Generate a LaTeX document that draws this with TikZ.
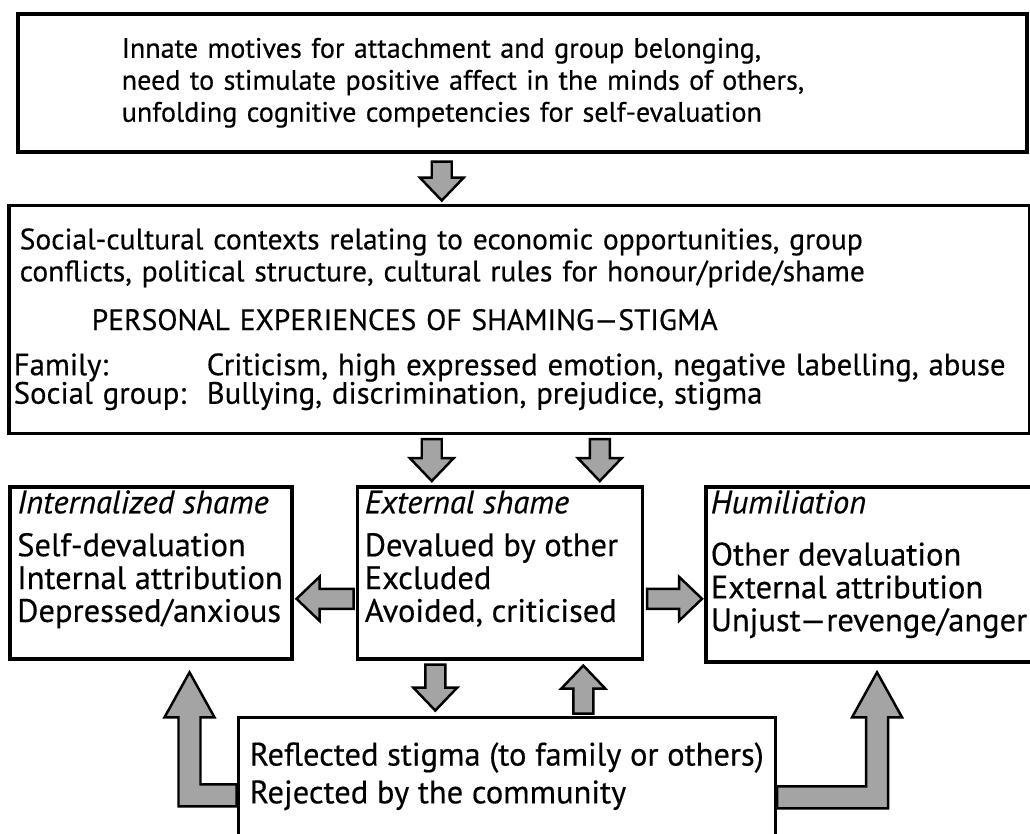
\documentclass[tikz,border=0pt]{standalone}
\usepackage{fontspec}
\setmainfont{PT Sans}[FakeBold=0.4]
\usetikzlibrary{positioning,calc}
\definecolor{shgray}{HTML}{A4A4A4}

\tikzset{
  pics/blockarrow/.style={code={
    \draw[blk] (-2,0) -- (-2,{4.6-#1}) -- (-4.4,{4.6-#1}) -- (0,-#1)
      -- (4.4,{4.6-#1}) -- (2,{4.6-#1}) -- (2,0) -- cycle;}},
}

\begin{document}
\begin{tikzpicture}[
  x=1mm, y=1mm,
  font=\fontsize{16}{18.2}\selectfont,
  frame/.style = {draw, line width=2pt, inner sep=0pt},
  shbox/.style = {frame, inner xsep=1.5mm, font=\fontsize{18.5}{18.7}\selectfont},
  blk/.style = {draw, line width=1.4pt, fill=shgray, line join=miter},
]
\useasboundingbox (0,0) rectangle (206,-166.6);

% ---------- motives ----------
\node[frame, anchor=north west, text width=201.8mm, minimum height=27.6mm, align=left] (motives) at (3.2,-2.4)
  {\hspace*{20.8mm}Innate motives for attachment and group belonging,\\
   \hspace*{20.8mm}need to stimulate positive affect in the minds of others,\\
   \hspace*{20.8mm}unfolding cognitive competencies for self-evaluation};

% ---------- contexts and shaming experiences ----------
\node[frame, below=10mm of motives.south west, anchor=north west, xshift=-1.8mm, inner xsep=1mm,
      text width=202.2mm, minimum height=45.6mm, align=left, font=\fontsize{16.8}{18.2}\selectfont] (social)
  {\mbox{\hspace*{1.2mm}Social-cultural contexts relating to economic opportunities, group}\\
   \mbox{\hspace*{1.2mm}conflicts, political structure, cultural rules for honour/pride/shame}\\[9.5pt]
   \mbox{\hspace*{15.6mm}PERSONAL EXPERIENCES OF SHAMING---STIGMA}\\[7.5pt]
   \mbox{\fontsize{17.5}{18.2}\selectfont\makebox[38.6mm][l]{Family:}Criticism, high expressed emotion, negative labelling, abuse}\\[-2pt]
   \mbox{\fontsize{17.5}{18.2}\selectfont\makebox[38.6mm][l]{Social group:}Bullying, discrimination, prejudice, stigma}};

% ---------- three kinds of shame ----------
\node[shbox, below=10mm of social.south west, anchor=north west, xshift=0.2mm] (internal)
  {\parbox[c][34.4mm][t]{53.4mm}{\raggedright\rule{0pt}{5.3mm}\textit{Internalized shame}\\[5.7pt]
   Self-devaluation\\ \mbox{Internal attribution}\\ Depressed/anxious}};
\node[shbox, right=12.4mm of internal.north east, anchor=north west] (external)
  {\parbox[c][34.4mm][t]{54mm}{\raggedright\rule{0pt}{5.3mm}\textit{External shame}\\[5.7pt]
   \mbox{Devalued by other}\\ Excluded\\ \mbox{Avoided, criticised}}};
\node[shbox, inner xsep=1mm, right=12mm of external.north east, anchor=north west] (humil)
  {\parbox[c][35mm][t]{64.2mm}{\raggedright\rule{0pt}{5.3mm}\textit{Humiliation}\\[11pt]
   Other devaluation\\ \mbox{External attribution}\\ \mbox{Unjust---revenge/anger}}};

% ---------- reflected stigma ----------
\node[frame, minimum width=107.4mm, minimum height=23.6mm, align=left, font=\fontsize{18.5}{18.7}\selectfont,
      below=11mm of external.south, xshift=1.4mm] (reflected)
  {Reflected stigma (to family or others)\\[2.8pt] Rejected by the community};

% ---------- block arrows ----------
\pic at ([shift={(-16.1,-1.6)}]motives.south) {blockarrow=7.8};
\pic at ([shift={(-17.5,-0.8)}]social.south) {blockarrow=8.4};
\pic at ([shift={(16.1,-0.8)}]social.south) {blockarrow=8.4};
\pic[rotate=-90] at ([shift={(-0.4,-5.2)}]external.west) {blockarrow=11.4};
\pic[rotate=90] at ([shift={(0.6,-5.2)}]external.east) {blockarrow=11};
\pic at ([shift={(-12.9,-0.8)}]external.south) {blockarrow=9.2};
\pic[rotate=180] at ([shift={(15.3,0.4)}]reflected.north) {blockarrow=9.6};

% reflected stigma turns back into internalized shame and humiliation
\draw[blk] ([yshift=-1.6mm]reflected.west) -- ++(-7.2,0) -- ++(0,13.4) -- ++(2.8,0)
  -- ++(-5,9) -- ++(-5,-9) -- ++(2.8,0) -- ++(0,-17.8) -- ++(11.6,0) -- cycle;
\draw[blk] ([yshift=-6.4mm]reflected.east) -- ++(22.2,0) -- ++(0,18.2) -- ++(2.8,0)
  -- ++(-5,9) -- ++(-5,-9) -- ++(2.8,0) -- ++(0,-13.8) -- ++(-17.8,0) -- cycle;

\end{tikzpicture}
\end{document}
